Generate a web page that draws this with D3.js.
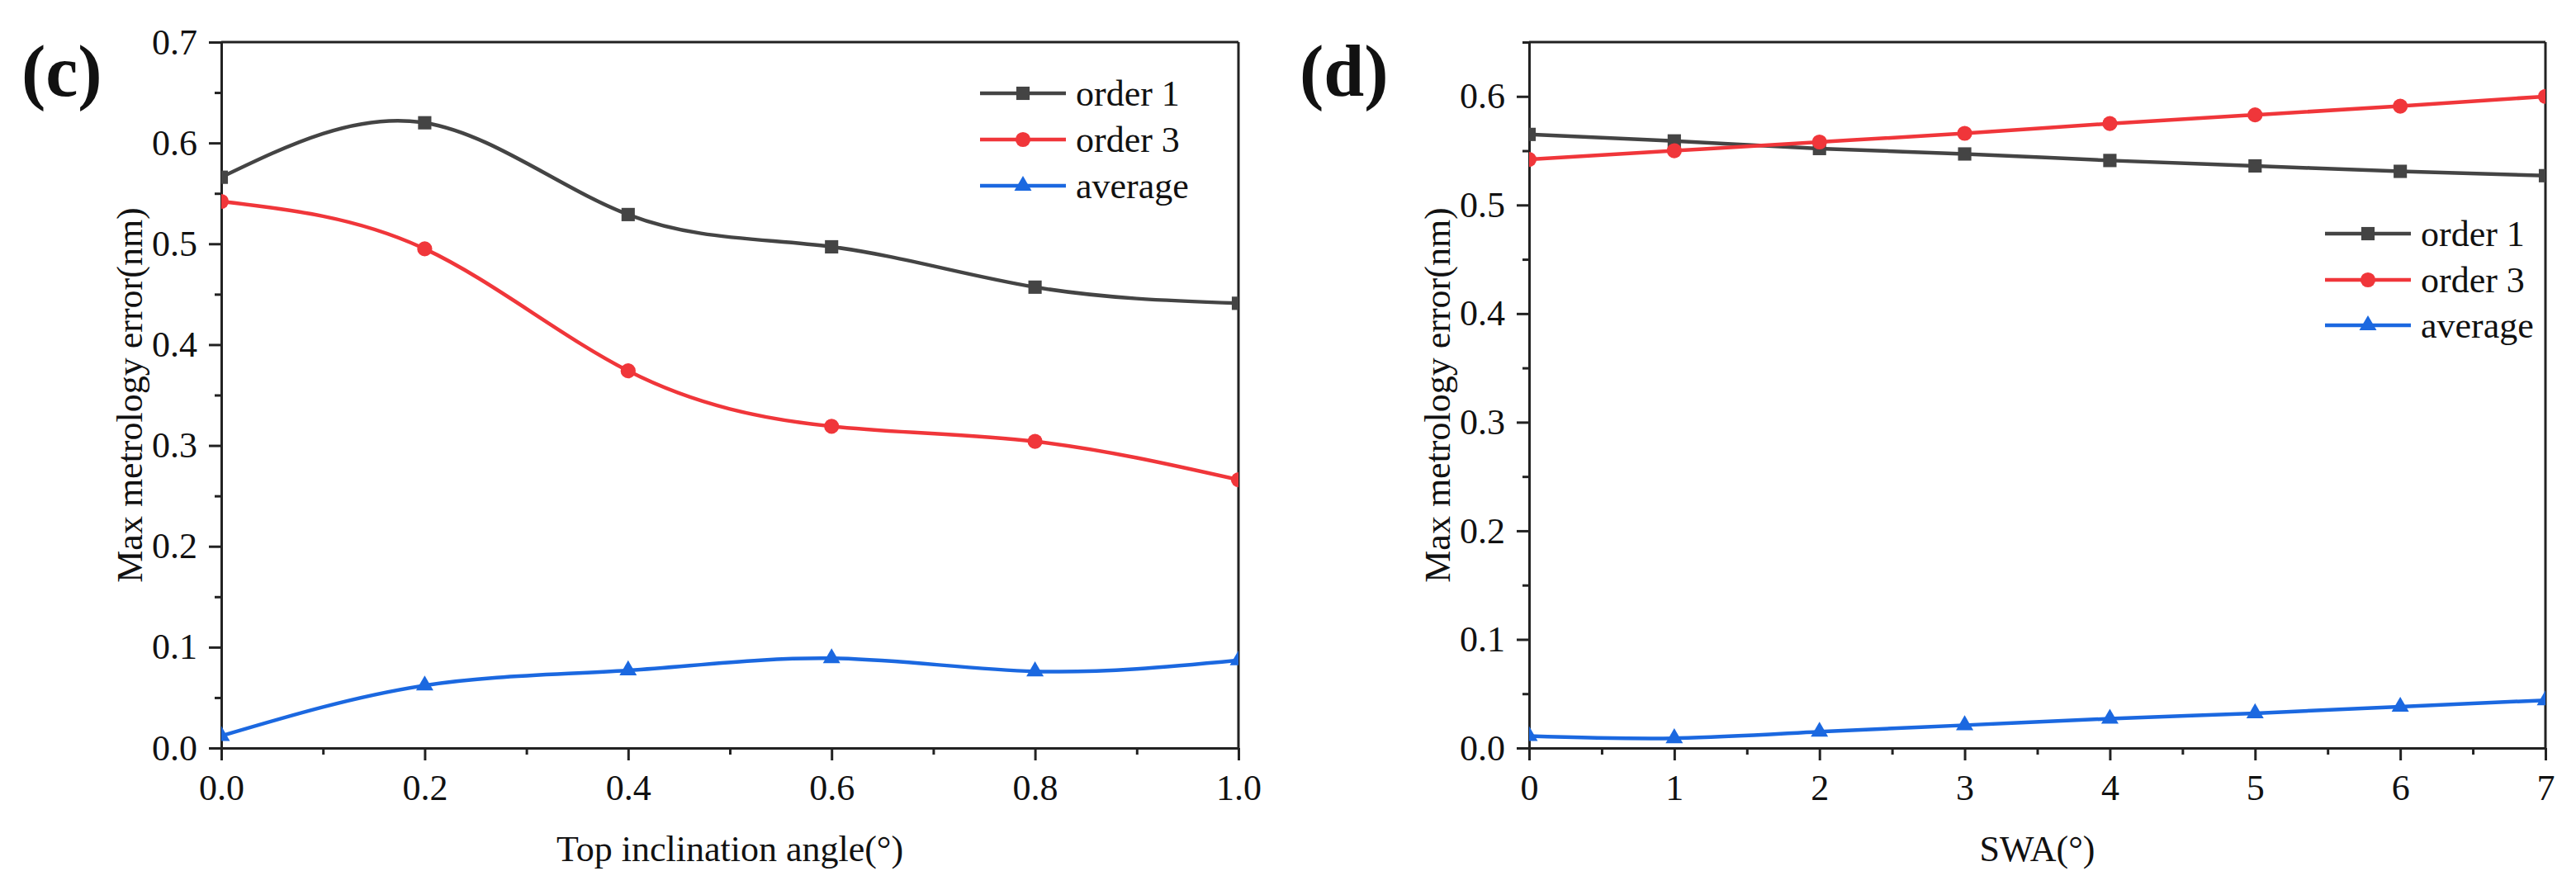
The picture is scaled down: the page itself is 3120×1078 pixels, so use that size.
<!DOCTYPE html>
<html>
<head>
<meta charset="utf-8">
<script src="https://cdn.jsdelivr.net/npm/d3@7"></script>
<style>
  body { margin: 0; background: #fff; }
  svg text { font-family: "Liberation Serif", "Times New Roman", serif !important; fill: #111; }
</style>
</head>
<body>
<div id="plot"></div>
<script>
// data
// panel (c)
var angleC = [0.0, 0.2, 0.4, 0.6, 0.8, 1.0];
var order1C = [0.566, 0.620, 0.529, 0.497, 0.457, 0.441];
var order3C = [0.542, 0.495, 0.374, 0.319, 0.304, 0.266];
var averageC = [0.012, 0.062, 0.077, 0.089, 0.076, 0.087];

// panel (d)
var swaD = [0, 1, 2, 3, 4, 5, 6, 7];
var order1D = [0.565, 0.559, 0.552, 0.547, 0.541, 0.536, 0.531, 0.527];
var order3D = [0.542, 0.550, 0.558, 0.566, 0.575, 0.583, 0.591, 0.600];
var averageD = [0.011, 0.009, 0.015, 0.021, 0.027, 0.032, 0.038, 0.044];

var seriesNames = ["order 1", "order 3", "average"];
var seriesColors = ["#444444", "#f0363a", "#1b68e0"];
var seriesShapes = [d3.symbolSquare, d3.symbolCircle, d3.symbolTriangle];

var FONT = "Liberation Serif";
var W = 3120, H = 1078;

var svg = d3.select("#plot")
  .append("svg")
  .attr("width", W)
  .attr("height", H)
  .attr("font-family", FONT);

svg.append("rect").attr("width", W).attr("height", H).attr("fill", "#fff");

function drawPanel(p) {
  var g = svg.append("g");

  var x = d3.scaleLinear().domain(p.xDomain).range([p.left, p.right]);
  var y = d3.scaleLinear().domain(p.yDomain).range([p.bottom, p.top]);

  // clip for the curves and markers
  g.append("clipPath").attr("id", p.id + "clip")
    .append("rect")
    .attr("x", p.left).attr("y", p.top)
    .attr("width", p.right - p.left).attr("height", p.bottom - p.top);

  // minor ticks
  g.append("g")
    .attr("transform", "translate(0," + p.bottom + ")")
    .call(d3.axisBottom(x).tickValues(p.xMinor).tickSize(8).tickFormat(""))
    .call(function (a) { a.select(".domain").remove(); });
  g.append("g")
    .attr("transform", "translate(" + p.left + ",0)")
    .call(d3.axisLeft(y).tickValues(p.yMinor).tickSize(8).tickFormat(""))
    .call(function (a) { a.select(".domain").remove(); });

  var xAxis = g.append("g")
    .attr("transform", "translate(0," + p.bottom + ")")
    .call(d3.axisBottom(x).tickValues(p.xTicks).tickSize(15).tickSizeOuter(0)
      .tickPadding(17).tickFormat(p.xFormat));
  var yAxis = g.append("g")
    .attr("transform", "translate(" + p.left + ",0)")
    .call(d3.axisLeft(y).tickValues(p.yTicks).tickSize(15).tickSizeOuter(0)
      .tickPadding(14).tickFormat(d3.format(".1f")));

  [xAxis, yAxis].forEach(function (a) {
    a.attr("font-family", FONT).attr("font-size", 44);
    a.select(".domain").attr("stroke", "#222").attr("stroke-width", 3);
    a.selectAll("text").attr("fill", "#111").attr("font-family", FONT);
  });
  g.selectAll(".tick line").attr("stroke", "#222").attr("stroke-width", 3);

  // top and right frame lines
  g.append("line").attr("x1", p.left).attr("x2", p.right)
    .attr("y1", p.top).attr("y2", p.top)
    .attr("stroke", "#222").attr("stroke-width", 3);
  g.append("line").attr("x1", p.right).attr("x2", p.right)
    .attr("y1", p.top).attr("y2", p.bottom)
    .attr("stroke", "#222").attr("stroke-width", 3);

  // curves
  var line = d3.line()
    .x(function (d) { return x(d[0]); })
    .y(function (d) { return y(d[1]); })
    .curve(d3.curveNatural);

  var plotArea = g.append("g").attr("clip-path", "url(#" + p.id + "clip)");

  p.series.forEach(function (vals, i) {
    var pts = p.xs.map(function (v, k) { return [v, vals[k]]; });
    plotArea.append("path")
      .datum(pts)
      .attr("fill", "none")
      .attr("stroke", seriesColors[i])
      .attr("stroke-width", 4.5)
      .attr("d", line);
    plotArea.selectAll(null)
      .data(pts)
      .enter().append("path")
      .attr("transform", function (d) { return "translate(" + x(d[0]) + "," + y(d[1]) + ")"; })
      .attr("d", d3.symbol().type(seriesShapes[i]).size(i == 2 ? 190 : 260))
      .attr("fill", seriesColors[i]);
  });

  // legend
  seriesNames.forEach(function (name, i) {
    var ly = p.legendY[i];
    g.append("line")
      .attr("x1", p.legendX).attr("x2", p.legendX + 104)
      .attr("y1", ly).attr("y2", ly)
      .attr("stroke", seriesColors[i]).attr("stroke-width", 4.5);
    g.append("path")
      .attr("transform", "translate(" + (p.legendX + 52) + "," + ly + ")")
      .attr("d", d3.symbol().type(seriesShapes[i]).size(i == 2 ? 190 : 260))
      .attr("fill", seriesColors[i]);
    g.append("text")
      .attr("x", p.legendX + 116)
      .attr("y", ly + 15)
      .attr("font-family", FONT)
      .attr("font-size", 44)
      .text(name);
  });

  // axis titles
  g.append("text")
    .attr("x", (p.left + p.right) / 2)
    .attr("y", 1043)
    .attr("font-family", FONT)
    .attr("font-size", 44)
    .attr("text-anchor", "middle")
    .text(p.xTitle);

  g.append("text")
    .attr("transform", "translate(" + (p.left - 96) + "," + ((p.top + p.bottom) / 2) + ") rotate(-90)")
    .attr("font-family", FONT)
    .attr("font-size", 44)
    .attr("text-anchor", "middle")
    .text("Max metrology error(nm)");

  // panel label
  g.append("text")
    .attr("x", p.labelX)
    .attr("y", 116)
    .attr("font-family", FONT)
    .attr("font-size", 88)
    .attr("font-weight", "bold")
    .text(p.label);
}

drawPanel({
  id: "c",
  left: 268, right: 1500, top: 51, bottom: 906,
  xDomain: [0, 1], yDomain: [0, 0.7],
  xTicks: [0, 0.2, 0.4, 0.6, 0.8, 1.0],
  xMinor: [0.1, 0.3, 0.5, 0.7, 0.9],
  yTicks: [0, 0.1, 0.2, 0.3, 0.4, 0.5, 0.6, 0.7],
  yMinor: [0.05, 0.15, 0.25, 0.35, 0.45, 0.55, 0.65],
  xFormat: d3.format(".1f"),
  xs: angleC,
  series: [order1C, order3C, averageC],
  legendX: 1187, legendY: [113, 169, 225],
  xTitle: "Top inclination angle(\u00b0)",
  label: "(c)", labelX: 26
});

drawPanel({
  id: "d",
  left: 1852, right: 3083, top: 51, bottom: 906,
  xDomain: [0, 7], yDomain: [0, 0.65],
  xTicks: [0, 1, 2, 3, 4, 5, 6, 7],
  xMinor: [0.5, 1.5, 2.5, 3.5, 4.5, 5.5, 6.5],
  yTicks: [0, 0.1, 0.2, 0.3, 0.4, 0.5, 0.6],
  yMinor: [0.05, 0.15, 0.25, 0.35, 0.45, 0.55, 0.65],
  xFormat: d3.format("d"),
  xs: swaD,
  series: [order1D, order3D, averageD],
  legendX: 2816, legendY: [283, 339, 394],
  xTitle: "SWA(\u00b0)",
  label: "(d)", labelX: 1574
});
</script>
</body>
</html>
